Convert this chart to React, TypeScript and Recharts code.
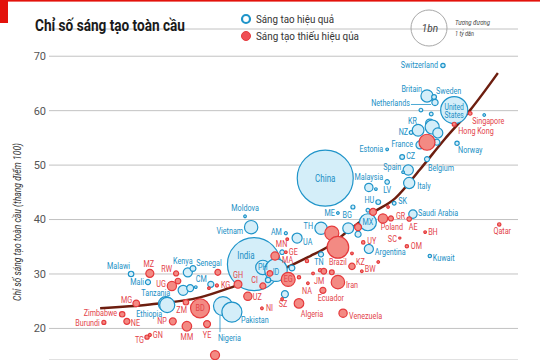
import React from 'react';
import { ComposedChart, Scatter, Line, XAxis, YAxis, ZAxis, CartesianGrid } from 'recharts';

type Pt = { name: string; x: number; y: number; z: number };

// x: income index (hidden axis), y: Global Innovation Index score, z: population (millions)
const EFFICIENT: Pt[] = [
  { name: 'Switzerland', x: 84.0, y: 68.3, z: 8 },
  { name: 'Britain', x: 80.6, y: 62.7, z: 65 },
  { name: 'Sweden', x: 82.1, y: 62.5, z: 10 },
  { name: 'Netherlands', x: 82.3, y: 61.5, z: 17 },
  { name: 'Finland', x: 79.3, y: 60.1, z: 6 },
  { name: 'United States', x: 86.4, y: 60.1, z: 320 },
  { name: 'Luxembourg', x: 92.8, y: 59.2, z: 3 },
  { name: 'Ireland', x: 81.5, y: 59.4, z: 6 },
  { name: 'KR', x: 81.2, y: 57.7, z: 30 },
  { name: 'Germany', x: 81.7, y: 57.0, z: 86 },
  { name: 'Canada', x: 82.9, y: 55.9, z: 44 },
  { name: 'NZ', x: 77.2, y: 56.0, z: 6 },
  { name: 'Australia', x: 78.7, y: 56.4, z: 60 },
  { name: 'France', x: 79.1, y: 53.7, z: 28 },
  { name: 'Austria', x: 82.7, y: 54.2, z: 16 },
  { name: 'Norway', x: 87.0, y: 54.0, z: 8 },
  { name: 'Estonia', x: 72.1, y: 52.9, z: 3 },
  { name: 'CZ', x: 75.3, y: 51.5, z: 10 },
  { name: 'Belgium', x: 80.6, y: 51.1, z: 11 },
  { name: 'Spain', x: 76.6, y: 49.1, z: 46 },
  { name: 'Slovenia', x: 75.5, y: 48.7, z: 3 },
  { name: 'China', x: 58.9, y: 47.6, z: 1370 },
  { name: 'Malaysia', x: 68.2, y: 45.9, z: 30 },
  { name: 'Cyprus', x: 69.7, y: 45.6, z: 3 },
  { name: 'LV', x: 72.1, y: 46.9, z: 9 },
  { name: 'Italy', x: 76.8, y: 46.7, z: 55 },
  { name: 'HU', x: 70.2, y: 43.2, z: 10 },
  { name: 'SK', x: 73.6, y: 43.0, z: 6 },
  { name: 'ME', x: 61.6, y: 41.2, z: 3 },
  { name: 'BG', x: 64.8, y: 42.3, z: 7 },
  { name: 'Costa Rica', x: 68.0, y: 41.7, z: 6 },
  { name: 'Saudi Arabia', x: 77.6, y: 41.0, z: 31 },
  { name: 'Argentina', x: 68.2, y: 34.6, z: 36 },
  { name: 'Kuwait', x: 81.2, y: 33.3, z: 5 },
  { name: 'MX', x: 68.0, y: 39.5, z: 126 },
  { name: 'TH', x: 58.0, y: 38.4, z: 66 },
  { name: 'Turkey', x: 63.8, y: 38.4, z: 52 },
  { name: 'Serbia', x: 65.9, y: 37.3, z: 16 },
  { name: 'TN', x: 58.0, y: 33.6, z: 11 },
  { name: 'UA', x: 52.9, y: 36.6, z: 44 },
  { name: 'AM', x: 50.5, y: 37.5, z: 4 },
  { name: 'Armenia2', x: 49.7, y: 34.0, z: 9 },
  { name: 'Moldova', x: 41.8, y: 40.6, z: 3 },
  { name: 'Vietnam', x: 43.1, y: 38.6, z: 78 },
  { name: 'India', x: 43.7, y: 31.8, z: 1230 },
  { name: 'PH', x: 45.6, y: 31.2, z: 90 },
  { name: 'ID', x: 48.4, y: 30.7, z: 220 },
  { name: 'Mongolia2', x: 51.8, y: 31.1, z: 15 },
  { name: 'Rwanda2', x: 46.7, y: 28.9, z: 12 },
  { name: 'Tajikistan', x: 50.3, y: 26.3, z: 21 },
  { name: 'Malawi', x: 17.5, y: 30.0, z: 13 },
  { name: 'Mali', x: 21.1, y: 28.5, z: 11 },
  { name: 'Kenya', x: 29.6, y: 30.3, z: 36 },
  { name: 'Senegal', x: 30.7, y: 31.0, z: 15 },
  { name: 'Burkina Faso', x: 28.6, y: 27.0, z: 44 },
  { name: 'Mozambique2', x: 30.1, y: 27.4, z: 21 },
  { name: 'Gambia', x: 31.3, y: 27.6, z: 3 },
  { name: 'CM', x: 34.5, y: 28.1, z: 16 },
  { name: 'Tanzania', x: 24.9, y: 24.5, z: 95 },
  { name: 'Ethiopia', x: 25.2, y: 24.3, z: 100 },
  { name: 'Nigeria', x: 37.1, y: 24.1, z: 158 },
  { name: 'Pakistan', x: 39.0, y: 23.0, z: 175 },
];

const INEFFICIENT: Pt[] = [
  { name: 'Singapore', x: 89.8, y: 59.5, z: 6 },
  { name: 'Hong Kong', x: 86.4, y: 57.5, z: 7 },
  { name: 'Japan', x: 80.6, y: 54.2, z: 112 },
  { name: 'Lithuania', x: 72.3, y: 42.3, z: 3 },
  { name: 'Chile', x: 69.1, y: 41.4, z: 21 },
  { name: 'Poland', x: 71.2, y: 40.2, z: 38 },
  { name: 'GR', x: 72.9, y: 40.2, z: 11 },
  { name: 'AE', x: 76.8, y: 40.1, z: 9 },
  { name: 'BH', x: 80.2, y: 37.7, z: 3 },
  { name: 'SC', x: 74.8, y: 36.6, z: 2 },
  { name: 'OM', x: 76.3, y: 35.1, z: 5 },
  { name: 'UY', x: 67.0, y: 35.8, z: 5 },
  { name: 'Qatar', x: 96.0, y: 39.1, z: 5 },
  { name: 'Russia', x: 60.3, y: 37.5, z: 86 },
  { name: 'Brazil', x: 61.6, y: 34.9, z: 205 },
  { name: 'Colombia', x: 65.9, y: 38.6, z: 21 },
  { name: 'KZ', x: 64.6, y: 31.4, z: 18 },
  { name: 'BW', x: 66.7, y: 30.5, z: 3 },
  { name: 'Panama', x: 70.2, y: 32.2, z: 3 },
  { name: 'Lebanon', x: 64.6, y: 33.8, z: 3 },
  { name: 'Jordan', x: 55.0, y: 32.4, z: 5 },
  { name: 'Sri Lanka', x: 57.8, y: 30.7, z: 5 },
  { name: 'Peru', x: 58.6, y: 30.5, z: 14 },
  { name: 'Dominican Rep.', x: 60.3, y: 30.3, z: 10 },
  { name: 'Iran', x: 61.6, y: 28.5, z: 79 },
  { name: 'JM', x: 56.3, y: 30.1, z: 3 },
  { name: 'NA', x: 55.2, y: 28.3, z: 3 },
  { name: 'Ecuador', x: 58.4, y: 27.0, z: 16 },
  { name: 'Algeria', x: 53.3, y: 24.6, z: 40 },
  { name: 'Venezuela', x: 62.7, y: 22.8, z: 30 },
  { name: 'SZ', x: 49.7, y: 25.4, z: 3 },
  { name: 'MN', x: 50.8, y: 36.4, z: 3 },
  { name: 'GE', x: 50.5, y: 34.0, z: 3 },
  { name: 'MA', x: 48.2, y: 33.3, z: 30 },
  { name: 'EG', x: 51.0, y: 29.0, z: 85 },
  { name: 'Bolivia', x: 53.3, y: 29.4, z: 5 },
  { name: 'Honduras', x: 47.1, y: 30.1, z: 14 },
  { name: 'MZ', x: 21.5, y: 30.1, z: 28 },
  { name: 'RW', x: 27.1, y: 30.1, z: 11 },
  { name: 'Guinea-Bissau', x: 36.0, y: 30.3, z: 15 },
  { name: 'UG', x: 26.2, y: 27.8, z: 37 },
  { name: 'Benin', x: 27.5, y: 28.7, z: 14 },
  { name: 'Togo2', x: 34.1, y: 27.4, z: 3 },
  { name: 'KG', x: 35.8, y: 27.9, z: 4 },
  { name: 'GH', x: 40.3, y: 28.1, z: 27 },
  { name: 'CI', x: 45.6, y: 27.8, z: 16 },
  { name: 'UZ', x: 42.4, y: 25.9, z: 30 },
  { name: 'NI', x: 45.4, y: 23.7, z: 3 },
  { name: 'BD', x: 32.2, y: 23.7, z: 158 },
  { name: 'ZM', x: 29.2, y: 24.8, z: 13 },
  { name: 'MG', x: 18.6, y: 24.6, z: 19 },
  { name: 'Zimbabwe', x: 15.6, y: 22.6, z: 13 },
  { name: 'Burundi', x: 11.7, y: 21.1, z: 7 },
  { name: 'NE', x: 16.6, y: 21.3, z: 16 },
  { name: 'NP', x: 26.4, y: 21.3, z: 21 },
  { name: 'MM', x: 29.4, y: 20.4, z: 40 },
  { name: 'YE', x: 33.7, y: 20.8, z: 21 },
  { name: 'TG', x: 20.9, y: 18.4, z: 8 },
  { name: 'GN', x: 21.5, y: 18.8, z: 4 },
  { name: 'Sudan', x: 35.4, y: 15.1, z: 36 },
];

// fitted trend curve
const TREND = [
  { x: 10.9, y: 23.7 },
  { x: 21.5, y: 24.4 },
  { x: 32.2, y: 25.7 },
  { x: 40.7, y: 28.1 },
  { x: 49.9, y: 30.9 },
  { x: 55.7, y: 33.3 },
  { x: 59.3, y: 34.9 },
  { x: 64.2, y: 38.2 },
  { x: 68.9, y: 41.2 },
  { x: 73.8, y: 43.9 },
  { x: 79.1, y: 49.2 },
  { x: 84.4, y: 54.8 },
  { x: 89.8, y: 60.1 },
  { x: 95.7, y: 66.9 },
];

const Y_TICKS = [20, 30, 40, 50, 60, 70];

const TITLE = 'Chỉ số sáng tạo toàn cầu';
const Y_TITLE = 'Chỉ số sáng tạo toàn cầu (thang điểm 100)';
const LEGEND_EFF = 'Sáng tao hiệu quả';
const LEGEND_INEFF = 'Sáng tạo thiếu hiệu qủa';
const SIZE_LABEL = '1bn';
const SIZE_NOTE = ['Tương đương', '1 tỷ dân'];

// label layout: [dx, dy, anchor]
const LABEL_POS: Record<string, [number, number, 'start' | 'middle' | 'end']> = {
  Switzerland: [-5, 3, 'end'],
  Britain: [-5, -4, 'end'],
  Sweden: [2, -3, 'start'],
  Netherlands: [-25, 4, 'end'],
  'United States': [0, -0.5, 'middle'],
  Singapore: [2, 11, 'start'],
  'Hong Kong': [4, 10, 'start'],
  KR: [-13, 1, 'end'],
  NZ: [-3, 3, 'end'],
  France: [-7, 2, 'end'],
  Norway: [1, 10, 'start'],
  Estonia: [-4, 3, 'end'],
  CZ: [4, 2, 'start'],
  Belgium: [1, 12, 'start'],
  Spain: [-7, 0, 'end'],
  China: [0, 4, 'middle'],
  Malaysia: [0, -7, 'middle'],
  LV: [0, 11, 'middle'],
  Italy: [8, 6, 'start'],
  HU: [-4, 1, 'end'],
  SK: [4, 1, 'start'],
  ME: [-3, 3, 'end'],
  BG: [-1, 11, 'end'],
  'Saudi Arabia': [5, 2, 'start'],
  Argentina: [6, 6, 'start'],
  Kuwait: [3, 5, 'start'],
  MX: [0, 3, 'middle'],
  TH: [-8, 1, 'end'],
  TN: [-2, 11, 'middle'],
  UA: [6, 7, 'start'],
  AM: [-4, 2, 'end'],
  Moldova: [0, -5, 'middle'],
  Vietnam: [-8, 7, 'end'],
  India: [-8, -5, 'middle'],
  PH: [0, 3, 'middle'],
  ID: [0, 5, 'middle'],
  Malawi: [-1, -5, 'end'],
  Mali: [-4, 3, 'end'],
  Kenya: [-5, -8, 'middle'],
  Senegal: [16, -3, 'middle'],
  CM: [-4, -2, 'end'],
  Tanzania: [-10, -8, 'middle'],
  Ethiopia: [-5, 12, 'end'],
  Nigeria: [-5, 35, 'start'],
  Pakistan: [9, 11, 'start'],
  Poland: [9, 12, 'middle'],
  GR: [5, 1, 'start'],
  AE: [4, 11, 'middle'],
  BH: [3, 3, 'start'],
  SC: [-3, 4, 'end'],
  OM: [4, 3, 'start'],
  UY: [4, 2, 'start'],
  Qatar: [3, 10, 'middle'],
  Brazil: [0, 18, 'middle'],
  KZ: [4, -1, 'start'],
  BW: [3, 1, 'start'],
  Iran: [8, 6, 'start'],
  JM: [1, 11, 'start'],
  NA: [-1, 11, 'middle'],
  Ecuador: [8, 11, 'middle'],
  Algeria: [13, 14, 'middle'],
  Venezuela: [6, 6, 'start'],
  SZ: [1, 8, 'middle'],
  MN: [0, 8, 'end'],
  GE: [3, 3, 'start'],
  MA: [7, 7, 'start'],
  EG: [0, 3, 'middle'],
  MZ: [-1, -6, 'middle'],
  RW: [-4, -1, 'end'],
  UG: [-6, 1, 'end'],
  KG: [4, 3, 'start'],
  GH: [0, -6, 'middle'],
  CI: [-5, -3, 'end'],
  UZ: [5, 4, 'start'],
  NI: [4, 3, 'start'],
  BD: [0, 3, 'middle'],
  ZM: [1, 11, 'end'],
  MG: [-4, 0, 'end'],
  Zimbabwe: [-5, 2, 'end'],
  Burundi: [-4, 4, 'end'],
  NE: [4, 5, 'start'],
  NP: [-6, 3, 'end'],
  MM: [0, 14, 'middle'],
  YE: [0, 14, 'middle'],
  GN: [3, 3, 'start'],
  TG: [-3, 6, 'end'],
  Sudan: [6, 12, 'start'],
};

const BLUE_STROKE = '#1f94c9';
const BLUE_FILL = '#d4eef9';
const BLUE_TEXT = '#1a8fc5';
const RED_STROKE = '#e53a3d';
const RED_FILL = '#f38a83';
const RED_TEXT = '#e3434a';
const TREND_COLOR = '#6d1e0f';
const LABEL_FONT = 'Roboto, "Noto Sans", sans-serif';
const SQUEEZE = 0.8;

const LABELED = [
  ...EFFICIENT.map((p) => ({ ...p, kind: 'e' })),
  ...INEFFICIENT.map((p) => ({ ...p, kind: 'i' })),
].filter((p) => LABEL_POS[p.name]);

function LabelShape(props: any) {
  const { cx, cy, payload } = props;
  if (cx == null || cy == null || !payload) return <g />;
  const pos = LABEL_POS[payload.name];
  if (!pos) return <g />;
  const [dx, dy, anchor] = pos;
  const color = payload.kind === 'e' ? BLUE_TEXT : RED_TEXT;
  const big = payload.name === 'China' || payload.name === 'India';
  const fs = big ? 10 : 9;
  const tx = cx + dx;
  const ty = cy + dy;
  if (payload.name === 'United States') {
    return (
      <g fill={color} fontFamily={LABEL_FONT} fontSize={8.5} textAnchor="middle">
        <text transform={`translate(${tx},${ty}) scale(${SQUEEZE},1)`}>United</text>
        <text transform={`translate(${tx},${ty + 8}) scale(${SQUEEZE},1)`}>States</text>
      </g>
    );
  }
  return (
    <g>
      {payload.name === 'Netherlands' && (
        <line x1={cx - 24} x2={cx - 4} y1={cy + 2} y2={cy + 2} stroke={BLUE_STROKE} strokeWidth={0.8} />
      )}
      {payload.name === 'Nigeria' && (
        <line x1={cx - 3} x2={cx - 3} y1={cy + 9} y2={cy + 26} stroke={BLUE_STROKE} strokeWidth={0.8} />
      )}
      <text
        transform={`translate(${tx},${ty}) scale(${SQUEEZE},1)`}
        textAnchor={anchor}
        fontSize={fs}
        fill={color}
        fontFamily={LABEL_FONT}
      >
        {payload.name}
      </text>
    </g>
  );
}

export default function App() {
  return (
    <div
      style={{
        position: 'absolute',
        left: 0,
        top: 0,
        width: 540,
        height: 360,
        background: '#fff',
        overflow: 'hidden',
        fontFamily: LABEL_FONT,
      }}
    >
      <ComposedChart width={540} height={360} margin={{ top: 29, right: 22, bottom: 0, left: 9 }}>
        <CartesianGrid vertical={false} stroke="#c2c2c2" strokeWidth={1} />
        <XAxis type="number" dataKey="x" domain={[0, 100]} hide />
        <YAxis
          type="number"
          dataKey="y"
          domain={[14.2, 75]}
          ticks={Y_TICKS}
          axisLine={false}
          tickLine={false}
          tickSize={0}
          tickMargin={3}
          width={40}
          tick={{ fontSize: 11, fill: '#555', fontFamily: LABEL_FONT }}
        />
        <ZAxis type="number" dataKey="z" domain={[0, 1370]} range={[0, Math.PI * 28 * 28]} />
        <Scatter
          data={EFFICIENT}
          shape="circle"
          fill={BLUE_FILL}
          stroke={BLUE_STROKE}
          strokeWidth={1.2}
          isAnimationActive={false}
        />
        <Scatter
          data={INEFFICIENT}
          shape="circle"
          fill={RED_FILL}
          stroke={RED_STROKE}
          strokeWidth={1.2}
          isAnimationActive={false}
        />
        <Line
          data={TREND}
          dataKey="y"
          type="monotone"
          stroke={TREND_COLOR}
          strokeWidth={2.5}
          dot={false}
          activeDot={false}
          isAnimationActive={false}
        />
        <Scatter data={LABELED} shape={(p: any) => <LabelShape {...p} />} isAnimationActive={false} />
      </ComposedChart>
      <svg
        width={540}
        height={360}
        style={{ position: 'absolute', left: 0, top: 0, pointerEvents: 'none' }}
      >
        <rect x={0} y={0} width={540} height={1.6} fill="#e3120b" />
        <rect x={0} y={0} width={8} height={23} fill="#e3120b" />
        <text
          x={35}
          y={31}
          fontSize={16}
          fontWeight={700}
          fill="#1a1a1a"
          fontFamily={LABEL_FONT}
          textLength={150}
          lengthAdjust="spacingAndGlyphs"
        >
          {TITLE}
        </text>
        <circle cx={246} cy={19} r={4} fill="#fff" stroke={BLUE_STROKE} strokeWidth={2.2} />
        <text x={256} y={23} fontSize={11} fill="#333" fontFamily={LABEL_FONT} textLength={78} lengthAdjust="spacingAndGlyphs">
          {LEGEND_EFF}
        </text>
        <circle cx={246} cy={36} r={4.5} fill="#ef4f55" stroke={RED_STROKE} strokeWidth={1} />
        <text x={256} y={40} fontSize={11} fill="#333" fontFamily={LABEL_FONT} textLength={103} lengthAdjust="spacingAndGlyphs">
          {LEGEND_INEFF}
        </text>
        <circle cx={429} cy={28} r={18} fill="none" stroke="#a8a8a8" strokeWidth={1} />
        <text x={430} y={31.5} fontSize={10} fontStyle="italic" fill="#444" textAnchor="middle" fontFamily={LABEL_FONT}>
          {SIZE_LABEL}
        </text>
        <text x={455} y={25} fontSize={8} fontStyle="italic" fill="#444" fontFamily={LABEL_FONT} textLength={35} lengthAdjust="spacingAndGlyphs">
          {SIZE_NOTE[0]}
        </text>
        <text x={455} y={36} fontSize={8} fontStyle="italic" fill="#444" fontFamily={LABEL_FONT} textLength={19} lengthAdjust="spacingAndGlyphs">
          {SIZE_NOTE[1]}
        </text>
        <text
          transform="translate(21,222) rotate(-90)"
          textAnchor="middle"
          fontSize={10.5}
          fontStyle="italic"
          fill="#333"
          fontFamily={LABEL_FONT}
          textLength={158}
          lengthAdjust="spacingAndGlyphs"
        >
          {Y_TITLE}
        </text>
      </svg>
    </div>
  );
}
